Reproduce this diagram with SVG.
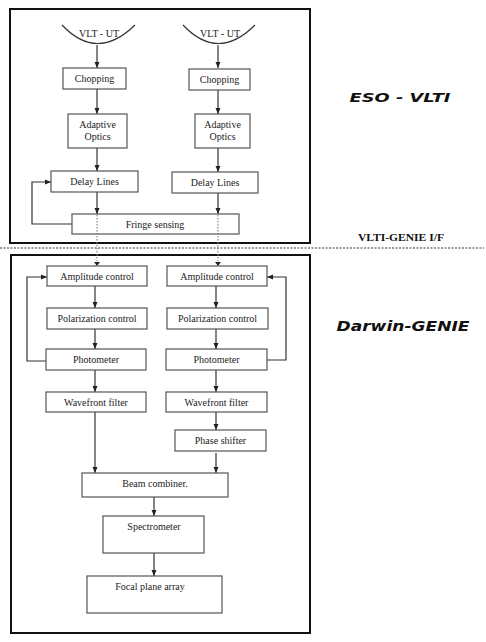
<svg xmlns="http://www.w3.org/2000/svg" width="486" height="642" viewBox="0 0 486 642">
<defs>
<marker id="ah" viewBox="0 0 6 6" refX="6" refY="3" markerWidth="6" markerHeight="6" markerUnits="userSpaceOnUse" orient="auto">
<path d="M0,0.5 L6,3 L0,5.5 z" fill="#222"/>
</marker>
<style>
.frame{fill:none;stroke:#111;stroke-width:2}
.box{fill:#fff;stroke:#555;stroke-width:1.2}
.t{font-family:"Liberation Serif","Times New Roman",serif;font-size:10px;fill:#222;text-anchor:middle}
.c{fill:none;stroke:#333;stroke-width:1.2}
.ca{fill:none;stroke:#333;stroke-width:1.2;marker-end:url(#ah)}
.d{fill:none;stroke:#888;stroke-width:1.2;stroke-dasharray:1.5 1.5}
.big{font-family:"DejaVu Sans",Verdana,sans-serif;font-weight:bold;font-style:italic;fill:#111}
</style>
</defs>
<rect width="486" height="642" fill="#fff"/>
<rect class="frame" x="10" y="9" width="300" height="234"/>
<rect class="frame" x="11" y="255" width="299" height="378"/>
<line x1="0" y1="248" x2="484" y2="248" stroke="#333" stroke-width="1.2" stroke-dasharray="2 1.5"/>
<text class="big" x="400" y="102" font-size="13" text-anchor="middle" textLength="101" lengthAdjust="spacingAndGlyphs">ESO - VLTI</text>
<text x="401" y="241" font-family="Liberation Serif,serif" font-weight="bold" font-size="11" text-anchor="middle" textLength="86" lengthAdjust="spacingAndGlyphs" fill="#111">VLTI-GENIE I/F</text>
<text class="big" x="403" y="331" font-size="14" text-anchor="middle" textLength="133" lengthAdjust="spacingAndGlyphs">Darwin-GENIE</text>
<g id="connectors">
<line class="ca" x1="97" y1="45" x2="97" y2="68"/>
<line class="ca" x1="218" y1="45" x2="218" y2="68"/>
<line class="ca" x1="97" y1="89" x2="97" y2="114"/>
<line class="ca" x1="218" y1="90" x2="218" y2="114"/>
<line class="ca" x1="97" y1="148" x2="97" y2="171"/>
<line class="ca" x1="218" y1="148" x2="218" y2="172"/>
<line class="ca" x1="97" y1="192" x2="97" y2="214"/>
<line class="ca" x1="218" y1="193" x2="218" y2="214"/>
<polyline class="ca" points="72,224 32,224 32,182 51,182"/>
<line class="ca" x1="95" y1="286" x2="95" y2="308"/>
<line class="ca" x1="216" y1="286" x2="216" y2="308"/>
<line class="ca" x1="95" y1="329" x2="95" y2="349"/>
<line class="ca" x1="216" y1="329" x2="216" y2="349"/>
<line class="ca" x1="95" y1="370" x2="95" y2="392"/>
<line class="ca" x1="216" y1="370" x2="216" y2="392"/>
<polyline class="ca" points="46,361 27,361 27,277 47,277"/>
<polyline class="ca" points="267,360 286,360 286,277 267,277"/>
<line class="ca" x1="216" y1="412" x2="216" y2="430"/>
<line class="ca" x1="95" y1="412" x2="95" y2="473"/>
<line class="ca" x1="216" y1="453" x2="216" y2="473"/>
<line class="ca" x1="154" y1="497" x2="154" y2="516"/>
<line class="ca" x1="154" y1="553" x2="154" y2="576"/>
</g>
<g id="ut1">
<path class="c" d="M62,25 Q97,62 135,25"/>
<text class="t" x="99" y="37" font-size="10">VLT - UT</text>
</g>
<g id="ut2">
<path class="c" d="M183,25 Q218,62 255,25"/>
<text class="t" x="220" y="37" font-size="10">VLT - UT</text>
</g>
<g id="chop1"><rect class="box" x="63" y="68" width="63" height="21"/><text class="t" x="94.5" y="82">Chopping</text></g>
<g id="chop2"><rect class="box" x="189" y="69" width="61" height="21"/><text class="t" x="219.5" y="83">Chopping</text></g>
<g id="ao1"><rect class="box" x="68" y="114" width="59" height="34"/><text class="t" x="97.5" y="128">Adaptive</text><text class="t" x="97.5" y="140">Optics</text></g>
<g id="ao2"><rect class="box" x="195" y="114" width="55" height="34"/><text class="t" x="222.5" y="128">Adaptive</text><text class="t" x="222.5" y="140">Optics</text></g>
<g id="dl1"><rect class="box" x="51" y="171" width="87" height="21"/><text class="t" x="94.5" y="185">Delay Lines</text></g>
<g id="dl2"><rect class="box" x="172" y="172" width="86" height="21"/><text class="t" x="215" y="186">Delay Lines</text></g>
<g id="fringe"><rect class="box" x="72" y="214" width="167" height="20"/><text class="t" x="155" y="228">Fringe sensing</text></g>
<g id="links">
<line class="d" x1="97" y1="215" x2="97" y2="261"/>
<line class="d" x1="218" y1="215" x2="218" y2="261"/>
<path d="M94,262 L97,266 L100,262 z" fill="#222"/>
<path d="M215,262 L218,266 L221,262 z" fill="#222"/>
</g>
<g id="amp1"><rect class="box" x="47" y="266" width="100" height="20"/><text class="t" x="97" y="280">Amplitude control</text></g>
<g id="amp2"><rect class="box" x="167" y="266" width="100" height="20"/><text class="t" x="217" y="280">Amplitude control</text></g>
<g id="pol1"><rect class="box" x="47" y="308" width="100" height="21"/><text class="t" x="97" y="322">Polarization control</text></g>
<g id="pol2"><rect class="box" x="167" y="308" width="101" height="21"/><text class="t" x="217.5" y="322">Polarization control</text></g>
<g id="ph1"><rect class="box" x="46" y="349" width="100" height="21"/><text class="t" x="96" y="363">Photometer</text></g>
<g id="ph2"><rect class="box" x="166" y="349" width="101" height="21"/><text class="t" x="216.5" y="363">Photometer</text></g>
<g id="wf1"><rect class="box" x="46" y="392" width="100" height="20"/><text class="t" x="96" y="406">Wavefront filter</text></g>
<g id="wf2"><rect class="box" x="166" y="392" width="101" height="20"/><text class="t" x="216.5" y="406">Wavefront filter</text></g>
<g id="phase"><rect class="box" x="175" y="430" width="91" height="21"/><text class="t" x="220.5" y="444">Phase shifter</text></g>
<g id="bc"><rect class="box" x="82" y="473" width="146" height="24"/><text class="t" x="155" y="487">Beam combiner.</text></g>
<g id="spec"><rect class="box" x="103" y="516" width="101" height="37"/><text class="t" x="154" y="530">Spectrometer</text></g>
<g id="fpa"><rect class="box" x="87" y="576" width="135" height="37"/><text class="t" x="150" y="590">Focal plane array</text></g>
</svg>
